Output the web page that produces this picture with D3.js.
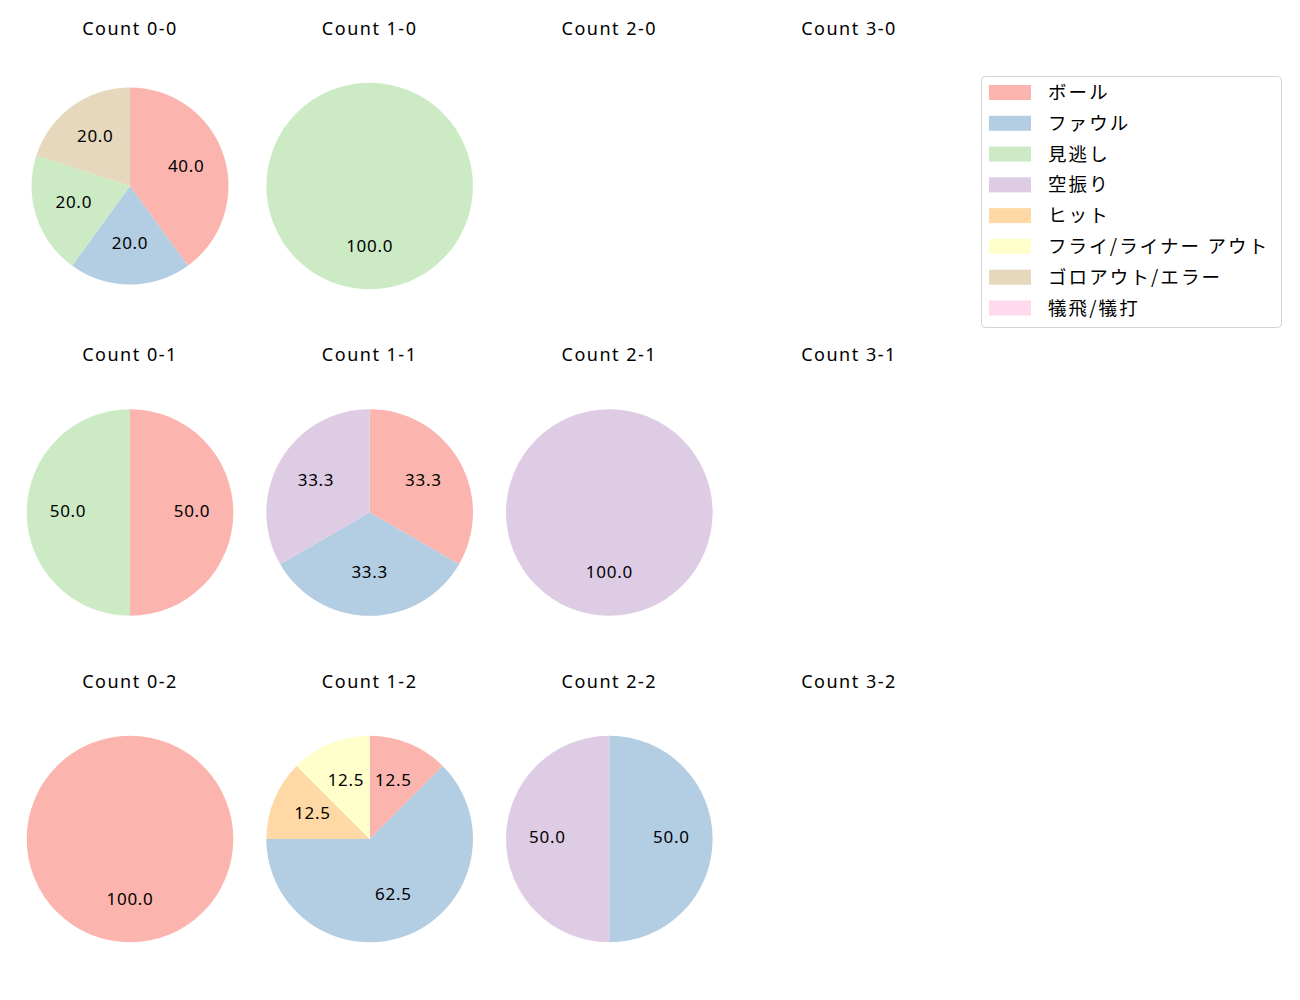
<!DOCTYPE html>
<html><head><meta charset="utf-8">
<script src="https://cdn.jsdelivr.net/npm/d3@7"></script>
<style>
body{margin:0;background:#fff}
text{font-family:"Noto Sans","Noto Sans CJK JP",sans-serif;fill:#000}
text.leg{font-family:"Noto Sans CJK JP","Noto Sans",sans-serif}
</style>
</head><body>
<svg id="c" width="1300" height="1000"></svg>
<script>
const categories = ["ボール","ファウル","見逃し","空振り","ヒット","フライ/ライナー アウト","ゴロアウト/エラー","犠飛/犠打"];
const colors = ["#fbb4ae","#b3cde3","#ccebc5","#decbe4","#fed9a6","#ffffcc","#e5d8bd","#fddaec"];
const balls = [0,1,2,3];
const strikes = [0,1,2];
// percentages per category, in category order
const count00 = [40,20,20,0,0,0,20,0];
const count10 = [0,0,100,0,0,0,0,0];
const count20 = [];
const count30 = [];
const count01 = [50,0,50,0,0,0,0,0];
const count11 = [33.3,33.3,0,33.3,0,0,0,0];
const count21 = [0,0,0,100,0,0,0,0];
const count31 = [];
const count02 = [100,0,0,0,0,0,0,0];
const count12 = [12.5,62.5,0,0,12.5,12.5,0,0];
const count22 = [0,50,0,50,0,0,0,0];
const count32 = [];
const countValues = {
  "0-0":count00,"1-0":count10,"2-0":count20,"3-0":count30,
  "0-1":count01,"1-1":count11,"2-1":count21,"3-1":count31,
  "0-2":count02,"1-2":count12,"2-2":count22,"3-2":count32
};

// layout
const svg = d3.select("#c");
const xPos = d3.scalePoint().domain(balls).range([130,849]);
const yPos = d3.scalePoint().domain(strikes).range([186,839]);
const radiusFor = k => k === "0-0" ? 98.5 : 103.3;
const color = d3.scaleOrdinal().domain(categories).range(colors);
const pie = d3.pie().sort(null).value(d => d.v);

strikes.forEach(s => {
  balls.forEach(b => {
    const key = `${b}-${s}`;
    const cx = xPos(b), cy = yPos(s);
    const g = svg.append("g").attr("transform", `translate(${cx},${cy})`);
    g.append("text").attr("x",0).attr("y",-151.5)
      .attr("text-anchor","middle").style("font-size","18px").style("letter-spacing","1.5px")
      .text(`Count ${key}`);
    const vals = countValues[key];
    if (!vals.length) return;
    const total = d3.sum(vals);
    const data = vals.map((v,i)=>({v, c:categories[i]}));
    const arcs = pie(data).filter(a => a.data.v > 0);
    const r = radiusFor(key);
    const arc = d3.arc().innerRadius(0).outerRadius(r);
    const labelArc = d3.arc().innerRadius(r*0.6).outerRadius(r*0.6);
    g.selectAll("path").data(arcs).join("path")
      .attr("d", arc).attr("fill", d => color(d.data.c));
    g.selectAll("text.lab").data(arcs).join("text").attr("class","lab")
      .attr("transform", d => { const [x,y] = labelArc.centroid(d); return `translate(${x},${y+4})`; })
      .attr("text-anchor","middle").style("font-size","17px").style("letter-spacing","0.7px")
      .text(d => (d.data.v/total*100).toFixed(1));
  });
});

// legend
const lg = svg.append("g");
lg.append("rect").attr("x",981.5).attr("y",76.5).attr("width",300).attr("height",251)
  .attr("rx",4).attr("fill","#fff").attr("stroke","#d3d3d3").attr("stroke-width",1);
const legY = d3.scalePoint().domain(categories).range([92.5, 308]);
categories.forEach(c => {
  lg.append("rect").attr("x",989).attr("y",legY(c)-7.5).attr("width",42).attr("height",15).attr("fill",color(c));
  lg.append("text").attr("class","leg").attr("x",1048).attr("y",legY(c)+6.5).style("font-size","18.5px").style("letter-spacing","2.1px").text(c);
});
</script>
</body></html>
